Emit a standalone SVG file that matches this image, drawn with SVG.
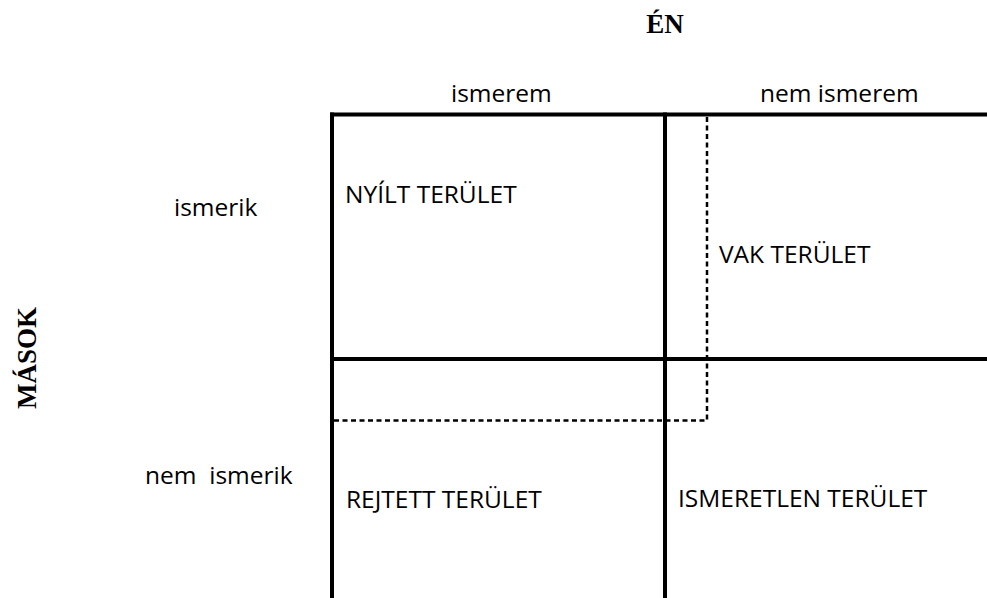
<svg xmlns="http://www.w3.org/2000/svg" width="987" height="598" viewBox="0 0 987 598">
<style>
.t{font-family:"Open Sans","Noto Sans","Liberation Sans",sans-serif;font-size:24.5px;fill:#000}
.h{font-family:"Liberation Serif","Times New Roman",serif;font-size:27px;font-weight:bold;fill:#000}
.solid{stroke:#000;stroke-width:4;fill:none}
.dash{stroke:#000;stroke-width:2.5;fill:none;stroke-dasharray:5 3.5}
</style>
<rect width="987" height="598" fill="#fff"/>
<g id="grid">
<line class="solid" x1="330" y1="114.5" x2="987" y2="114.5"/>
<line class="solid" x1="332" y1="112.5" x2="332" y2="598"/>
<line class="solid" x1="665" y1="112.5" x2="665" y2="598"/>
<line class="solid" x1="332" y1="359" x2="987" y2="359"/>
<polyline class="dash" points="707,117 707,420.5 334,420.5"/>
</g>
<g id="headers">
<text class="h" x="665" y="33" text-anchor="middle">ÉN</text>
<text class="h" transform="translate(36,358) rotate(-90)" text-anchor="middle">MÁSOK</text>
<text class="t" x="451" y="102">ismerem</text>
<text class="t" x="760" y="102">nem ismerem</text>
<text class="t" x="174" y="216">ismerik</text>
<text class="t" x="145" y="484" xml:space="preserve">nem  ismerik</text>
</g>
<g id="open"><text class="t" x="345" y="203">NYÍLT TERÜLET</text></g>
<g id="blind"><text class="t" x="719" y="263">VAK TERÜLET</text></g>
<g id="hidden"><text class="t" x="346" y="508">REJTETT TERÜLET</text></g>
<g id="unknown"><text class="t" x="678" y="507">ISMERETLEN TERÜLET</text></g>
</svg>
